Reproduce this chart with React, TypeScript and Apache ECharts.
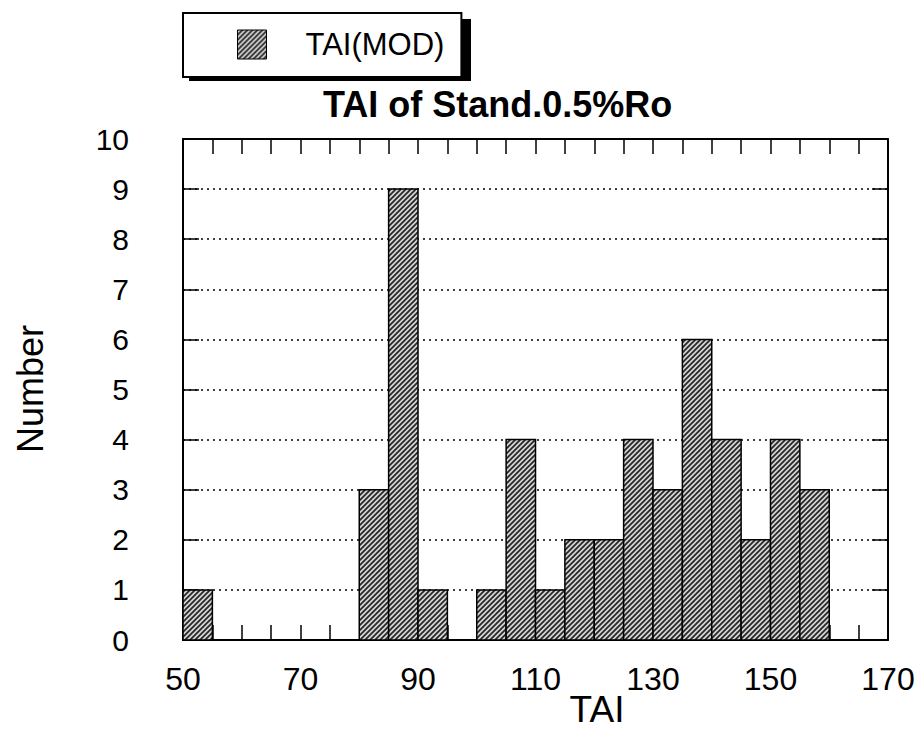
import React, { useEffect, useRef } from "react";
import * as echarts from "echarts";

const binStarts = [50, 55, 60, 65, 70, 75, 80, 85, 90, 95, 100, 105, 110, 115, 120, 125, 130, 135, 140, 145, 150, 155, 160, 165];
const counts = [1, 0, 0, 0, 0, 0, 3, 9, 1, 0, 1, 4, 1, 2, 2, 4, 3, 6, 4, 2, 4, 3, 0, 0];
const binWidth = 5;
const xLabelValues = [50, 70, 90, 110, 130, 150, 170];
const seriesName = "TAI(MOD)";
const titleText = "TAI of Stand.0.5%Ro";
const xName = "TAI";
const yName = "Number";

const FONT = "'Liberation Sans', Arial, Helvetica, sans-serif";

function makeHatch(): HTMLCanvasElement {
  const s = 5;
  const c = document.createElement("canvas");
  c.width = s;
  c.height = s;
  const ctx = c.getContext("2d")!;
  ctx.fillStyle = "#d4d4d4";
  ctx.fillRect(0, 0, s, s);
  ctx.strokeStyle = "#262626";
  ctx.lineWidth = 1.7;
  ctx.lineCap = "square";
  for (const k of [0, s, 2 * s]) {
    ctx.beginPath();
    ctx.moveTo(k + 1, -1);
    ctx.lineTo(-1, k + 1);
    ctx.stroke();
  }
  return c;
}

export default function App() {
  const ref = useRef<HTMLDivElement>(null);
  useEffect(() => {
    if (!ref.current) return;
    const chart = echarts.init(ref.current, null, { renderer: "svg" });
    const hatch = makeHatch();
    const pattern: any = { image: hatch, repeat: "repeat", imageWidth: 5, imageHeight: 5 };
    const data = binStarts.map((s, i) => [s, s + binWidth, counts[i]]);

    const xAxisCommon = {
      type: "value",
      min: 50,
      max: 170,
      interval: 5,
      axisLine: { show: true, onZero: false, lineStyle: { color: "#000", width: 2 } },
      axisTick: { show: true, inside: true, length: 15, lineStyle: { color: "#000", width: 1.5 } },
      splitLine: { show: false },
    };
    const yAxisCommon = {
      type: "value",
      min: 0,
      max: 10,
      interval: 1,
      axisLine: { show: true, lineStyle: { color: "#000", width: 2 } },
      axisTick: { show: true, inside: true, length: 16, lineStyle: { color: "#000", width: 1.5 } },
    };

    chart.setOption({
      animation: false,
      backgroundColor: "#fff",
      title: {
        text: titleText,
        left: 323,
        top: 86,
        padding: 0,
        textStyle: { fontFamily: FONT, fontSize: 36, fontWeight: "bold", color: "#000" },
      },
      legend: {
        left: 183,
        top: 13,
        orient: "horizontal",
        padding: [16, 17, 17, 54],
        backgroundColor: "#fff",
        borderColor: "#000",
        borderWidth: 2,
        borderRadius: 0,
        itemWidth: 29,
        itemHeight: 29,
        selectedMode: false,
        z: 10,
        textStyle: { fontFamily: FONT, fontSize: 31, color: "#000", padding: [0, 0, 0, 34] },
        data: [
          {
            name: seriesName,
            icon: "rect",
            itemStyle: { color: pattern, borderColor: "#000", borderWidth: 1 },
          },
        ],
      },
      grid: { left: 183, right: 36, top: 139, bottom: 91, containLabel: false },
      xAxis: [
        {
          ...xAxisCommon,
          position: "bottom",
          axisLabel: {
            show: true,
            margin: 23,
            fontFamily: FONT,
            fontSize: 32,
            color: "#000",
            formatter: (v: number) => (xLabelValues.includes(v) ? String(v) : ""),
          },
        },
        {
          ...xAxisCommon,
          position: "top",
          axisLabel: { show: false },
        },
      ],
      yAxis: [
        {
          ...yAxisCommon,
          position: "left",
          axisLabel: { show: true, margin: 54, fontFamily: FONT, fontSize: 30, color: "#000" },
          splitLine: { show: true, lineStyle: { color: "#000", width: 1.5, type: [2, 4] } },
        },
        {
          ...yAxisCommon,
          position: "right",
          axisLabel: { show: false },
          splitLine: { show: false },
        },
      ],
      series: [
        {
          name: seriesName,
          type: "custom",
          xAxisIndex: 0,
          yAxisIndex: 0,
          z: 3,
          itemStyle: { color: pattern },
          encode: { x: [0, 1], y: 2 },
          data,
          renderItem: (params: any, api: any) => {
            const x0 = api.value(0);
            const x1 = api.value(1);
            const y = api.value(2);
            if (!y) return null;
            const p0 = api.coord([x0, y]);
            const p1 = api.coord([x1, 0]);
            return {
              type: "rect",
              shape: { x: p0[0], y: p0[1], width: p1[0] - p0[0], height: p1[1] - p0[1] },
              style: { fill: pattern, stroke: "#000", lineWidth: 1.5 },
            };
          },
        },
      ],
      graphic: [
        {
          type: "rect",
          z: 5,
          shape: { x: 189, y: 19, width: 282, height: 62 },
          style: { fill: "#000" },
        },
        {
          type: "text",
          x: 30,
          y: 389,
          rotation: Math.PI / 2,
          style: {
            text: yName,
            fontFamily: FONT,
            fontSize: 36,
            fill: "#000",
            align: "center",
            verticalAlign: "middle",
          },
        },
        {
          type: "text",
          x: 597,
          y: 709,
          style: {
            text: xName,
            fontFamily: FONT,
            fontSize: 37,
            fill: "#000",
            align: "center",
            verticalAlign: "middle",
          },
        },
      ],
    });
    return () => chart.dispose();
  }, []);
  return <div ref={ref} style={{ width: 924, height: 731, position: "absolute", left: 0, top: 0 }} />;
}
